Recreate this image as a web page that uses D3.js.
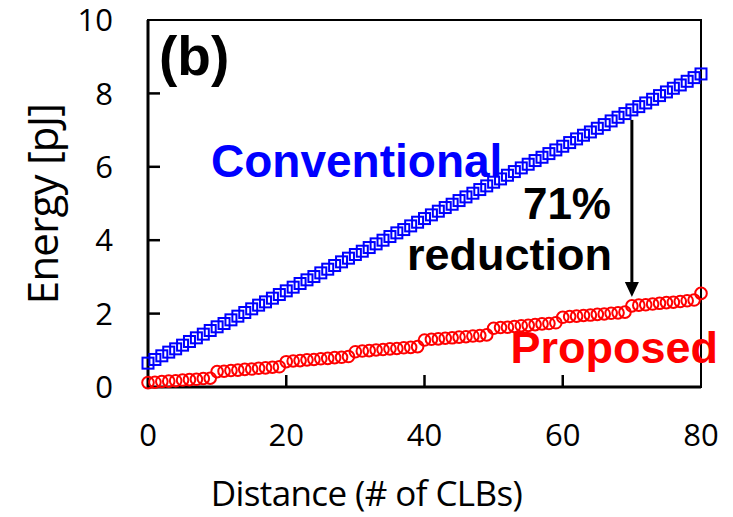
<!DOCTYPE html>
<html>
<head>
<meta charset="utf-8">
<script src="https://cdn.jsdelivr.net/npm/d3@7"></script>
<style>
	html, body { margin: 0; padding: 0; background: #fff; }
	svg { display: block; }
	.tick-label { font-family: "Open Sans", sans-serif; font-size: 31px; fill: #000; }
	.axis-title { font-family: "Open Sans", sans-serif; fill: #000; }
	.bold { font-family: "Liberation Sans", Arial, sans-serif; font-weight: bold; }
</style>
</head>
<body>
<div class="chart-container"></div>
<script>
////////////////////////////////////////////////////////////
//// Data //////////////////////////////////////////////////
////////////////////////////////////////////////////////////
const distance = d3.range(0, 81);
const conventional = [
	0.65, 0.75, 0.85, 0.95, 1.04, 1.14, 1.24, 1.34, 1.44, 1.54,
	1.64, 1.73, 1.83, 1.93, 2.03, 2.13, 2.23, 2.32, 2.42, 2.52,
	2.62, 2.72, 2.82, 2.92, 3.01, 3.11, 3.21, 3.31, 3.41, 3.51,
	3.61, 3.70, 3.80, 3.90, 4.00, 4.10, 4.20, 4.29, 4.39, 4.49,
	4.59, 4.69, 4.79, 4.89, 4.98, 5.08, 5.18, 5.28, 5.38, 5.48,
	5.58, 5.67, 5.77, 5.87, 5.97, 6.07, 6.17, 6.26, 6.36, 6.46,
	6.56, 6.66, 6.76, 6.86, 6.95, 7.05, 7.15, 7.25, 7.35, 7.45,
	7.55, 7.64, 7.74, 7.84, 7.94, 8.04, 8.14, 8.23, 8.33, 8.43,
	8.53
];
const proposed = [
	0.12, 0.13, 0.15, 0.16, 0.17, 0.19, 0.20, 0.21, 0.23, 0.24,
	0.42, 0.43, 0.45, 0.46, 0.48, 0.49, 0.51, 0.52, 0.54, 0.55,
	0.69, 0.71, 0.72, 0.74, 0.75, 0.77, 0.78, 0.80, 0.81, 0.83,
	0.96, 0.98, 0.99, 1.01, 1.02, 1.04, 1.05, 1.07, 1.08, 1.10,
	1.28, 1.30, 1.31, 1.33, 1.34, 1.36, 1.37, 1.39, 1.40, 1.42,
	1.60, 1.62, 1.63, 1.65, 1.67, 1.68, 1.70, 1.72, 1.73, 1.75,
	1.90, 1.92, 1.93, 1.95, 1.96, 1.98, 1.99, 2.01, 2.02, 2.04,
	2.21, 2.23, 2.24, 2.26, 2.28, 2.30, 2.31, 2.33, 2.35, 2.37,
	2.55
];
const xTicks = [0, 20, 40, 60, 80];
const yTicks = [0, 2, 4, 6, 8, 10];
const arrowAt = 70;

////////////////////////////////////////////////////////////
//// Setup /////////////////////////////////////////////////
////////////////////////////////////////////////////////////
const width = 733;
const height = 517;
const margin = { top: 20, right: 32, bottom: 130, left: 148 };

const x = d3.scaleLinear()
	.domain([0, 80])
	.range([margin.left, width - margin.right]);

const y = d3.scaleLinear()
	.domain([0, 10])
	.range([height - margin.bottom, margin.top]);

const svg = d3.select(".chart-container")
	.append("svg")
	.attr("width", width)
	.attr("height", height)
	.attr("viewBox", [0, 0, width, height]);

////////////////////////////////////////////////////////////
//// Render ////////////////////////////////////////////////
////////////////////////////////////////////////////////////
// Frame: thick left / bottom, thinner top / right
const [x0, x1] = x.range();
const [yb, yt] = y.range();
svg.append("path")
	.attr("d", `M${x0},${yb}H${x1}V${yt}H${x0}Z`)
	.attr("fill", "none")
	.attr("stroke", "#000")
	.attr("stroke-width", 2);
svg.append("path")
	.attr("d", `M${x0},${yt}V${yb}H${x1}`)
	.attr("fill", "none")
	.attr("stroke", "#000")
	.attr("stroke-width", 3);

// Inward ticks
svg.selectAll(".ytick")
	.data(yTicks.filter(d => d > 0 && d < 10))
	.join("line")
	.attr("x1", x0)
	.attr("x2", x0 + 12)
	.attr("y1", d => y(d))
	.attr("y2", d => y(d))
	.attr("stroke", "#000")
	.attr("stroke-width", 2.5);

svg.selectAll(".xtick")
	.data(xTicks.filter(d => d > 0 && d < 80))
	.join("line")
	.attr("x1", d => x(d))
	.attr("x2", d => x(d))
	.attr("y1", yb)
	.attr("y2", yb - 12)
	.attr("stroke", "#000")
	.attr("stroke-width", 2.5);

// Tick labels
svg.selectAll(".ylabel")
	.data(yTicks)
	.join("text")
	.attr("class", "tick-label")
	.attr("x", x0 - 35)
	.attr("y", d => y(d))
	.attr("dy", "0.36em")
	.attr("text-anchor", "end")
	.text(d => d);

svg.selectAll(".xlabel")
	.data(xTicks)
	.join("text")
	.attr("class", "tick-label")
	.attr("x", d => x(d))
	.attr("y", yb + 59)
	.attr("text-anchor", "middle")
	.text(d => d);

// Axis titles
svg.append("text")
	.attr("class", "axis-title")
	.attr("font-size", 35)
	.attr("letter-spacing", -0.6)
	.attr("x", (x0 + x1) / 2 - 58)
	.attr("y", 506)
	.attr("text-anchor", "middle")
	.text("Distance (# of CLBs)");

svg.append("text")
	.attr("class", "axis-title")
	.attr("font-size", 42)
	.attr("letter-spacing", -0.8)
	.attr("transform", `translate(58,204) rotate(-90)`)
	.attr("text-anchor", "middle")
	.text("Energy [pJ]");

// Conventional series (open squares)
const sq = 11;
svg.append("g")
	.selectAll("rect")
	.data(distance)
	.join("rect")
	.attr("x", d => x(d) - sq / 2)
	.attr("y", (d, i) => y(conventional[i]) - sq / 2)
	.attr("width", sq)
	.attr("height", sq)
	.attr("fill", "none")
	.attr("stroke", "#0000ff")
	.attr("stroke-width", 2);

// Proposed series (open circles)
svg.append("g")
	.selectAll("circle")
	.data(distance)
	.join("circle")
	.attr("cx", d => x(d))
	.attr("cy", (d, i) => y(proposed[i]))
	.attr("r", 5.8)
	.attr("fill", "none")
	.attr("stroke", "#ff0000")
	.attr("stroke-width", 2);

// Reduction arrow
const ax = x(arrowAt);
const aTop = y(conventional[arrowAt]) + 10;
const aTip = y(proposed[arrowAt]) - 9;
svg.append("line")
	.attr("x1", ax)
	.attr("x2", ax)
	.attr("y1", aTop)
	.attr("y2", aTip - 10)
	.attr("stroke", "#000")
	.attr("stroke-width", 3);
svg.append("path")
	.attr("d", `M${ax - 7},${aTip - 15}L${ax + 7},${aTip - 15}L${ax},${aTip}Z`)
	.attr("fill", "#000");

// Annotations
svg.append("text")
	.attr("class", "bold")
	.attr("font-size", 55)
	.attr("x", 159)
	.attr("y", 75)
	.text("(b)");

svg.append("text")
	.attr("class", "bold")
	.attr("font-size", 46)
	.attr("fill", "#0000ff")
	.attr("x", 211)
	.attr("y", 177)
	.text("Conventional");

svg.append("text")
	.attr("class", "bold")
	.attr("font-size", 44)
	.attr("text-anchor", "end")
	.attr("x", 611)
	.attr("y", 219)
	.text("71%");

svg.append("text")
	.attr("class", "bold")
	.attr("font-size", 45)
	.attr("text-anchor", "end")
	.attr("x", 612)
	.attr("y", 270)
	.text("reduction");

svg.append("text")
	.attr("class", "bold")
	.attr("font-size", 45)
	.attr("fill", "#ff0000")
	.attr("text-anchor", "end")
	.attr("x", 718)
	.attr("y", 363)
	.text("Proposed");
</script>
</body>
</html>
